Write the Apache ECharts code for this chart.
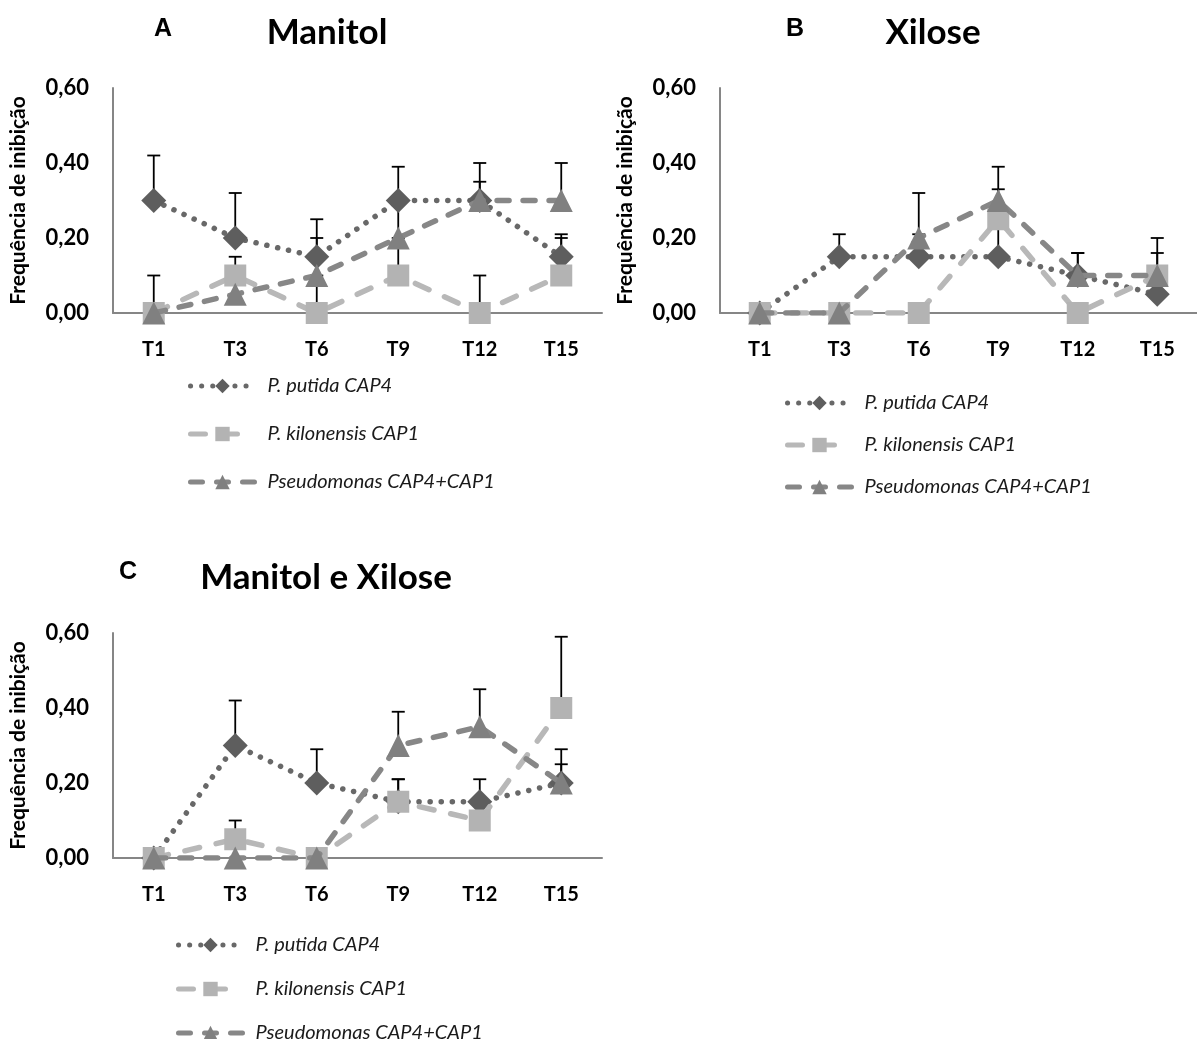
<!DOCTYPE html>
<html><head><meta charset="utf-8">
<script src="https://cdn.jsdelivr.net/npm/echarts@6/dist/echarts.min.js"></script>
<style>html,body{margin:0;padding:0;background:#fff}#c{width:1197px;height:1039px}</style>
</head><body><div id="c"></div>
<script>
// ---- data ----
const categories = ['T1', 'T3', 'T6', 'T9', 'T12', 'T15'];
const yTicks = [0, 0.2, 0.4, 0.6];
const seriesNames = ['P. putida CAP4', 'P. kilonensis CAP1', 'Pseudomonas CAP4+CAP1'];
const yAxisTitle = 'Frequência de inibição';
const panelLetters = ['A', 'B', 'C'];
const panelTitles = ['Manitol', 'Xilose', 'Manitol e Xilose'];

// Panel A - Manitol
const manitolPutida = [0.30, 0.20, 0.15, 0.30, 0.30, 0.15];
const manitolKilonensis = [0, 0.10, 0, 0.10, 0, 0.10];
const manitolMix = [0, 0.05, 0.10, 0.20, 0.30, 0.30];
const manitolPutidaErr = [0.12, 0.12, 0.10, 0.09, 0.10, 0.06];
const manitolKilonensisErr = [0.10, 0.05, 0.10, 0.10, 0.10, 0.10];
const manitolMixErr = [0, 0, 0.10, 0.10, 0.05, 0.10];

// Panel B - Xilose
const xilosePutida = [0, 0.15, 0.15, 0.15, 0.10, 0.05];
const xiloseKilonensis = [0, 0, 0, 0.25, 0, 0.10];
const xiloseMix = [0, 0, 0.20, 0.30, 0.10, 0.10];
const xilosePutidaErr = [0, 0.06, 0.06, 0.10, 0.06, 0.05];
const xiloseKilonensisErr = [0, 0, 0, 0.08, 0, 0.10];
const xiloseMixErr = [0, 0, 0.12, 0.09, 0.06, 0.06];

// Panel C - Manitol e Xilose
const mxPutida = [0, 0.30, 0.20, 0.15, 0.15, 0.20];
const mxKilonensis = [0, 0.05, 0, 0.15, 0.10, 0.40];
const mxMix = [0, 0, 0, 0.30, 0.35, 0.20];
const mxPutidaErr = [0, 0.12, 0.09, 0.06, 0.06, 0.09];
const mxKilonensisErr = [0, 0.05, 0, 0.06, 0, 0.19];
const mxMixErr = [0, 0, 0, 0.09, 0.10, 0.05];

// ---- layout / style ----
const panelValues = [
  [manitolPutida, manitolKilonensis, manitolMix],
  [xilosePutida, xiloseKilonensis, xiloseMix],
  [mxPutida, mxKilonensis, mxMix]
];
const panelErrors = [
  [manitolPutidaErr, manitolKilonensisErr, manitolMixErr],
  [xilosePutidaErr, xiloseKilonensisErr, xiloseMixErr],
  [mxPutidaErr, mxKilonensisErr, mxMixErr]
];
const grids = [
  {left: 113, top: 88, width: 489, height: 225},
  {left: 720, top: 88, width: 489, height: 225},
  {left: 113, top: 633, width: 489, height: 225}
];
const headPos = [
  {lx: 163, ly: 29, tx: 327, ty: 33},
  {lx: 795, ly: 29, tx: 933, ty: 33},
  {lx: 128, ly: 572, tx: 326, ty: 578}
];
const legendPos = [
  {left: 188, top: 376, gap: 28},
  {left: 785, top: 393, gap: 22},
  {left: 176, top: 935, gap: 24}
];
const styles = [
  {symbol: 'diamond', size: 25, color: '#5e5e5e', line: {color: '#686868', width: 5.5, type: [0.1, 11], cap: 'round'}},
  {symbol: 'rect', size: 22, color: '#b3b3b3', line: {color: '#b8b8b8', width: 5.5, type: [15, 17], cap: 'round'}},
  {symbol: 'triangle', size: 23, color: '#808080', line: {color: '#878787', width: 5.5, type: [12, 14], cap: 'round'}}
];
const FONT = 'Lato';

function errSeries(g, vals, errs) {
  return {
    type: 'custom', xAxisIndex: g, yAxisIndex: g, z: 1, silent: true,
    data: vals.map((v, i) => [i, v, errs[i]]).filter(d => d[2] > 0),
    encode: {x: 0, y: 1},
    renderItem: function (params, api) {
      const i = api.value(0), v = api.value(1), e = api.value(2);
      const p0 = api.coord([i, v]);
      const p1 = api.coord([i, v + e]);
      const st = {stroke: '#000', lineWidth: 1.8};
      return {type: 'group', children: [
        {type: 'line', shape: {x1: p0[0], y1: p0[1], x2: p1[0], y2: p1[1]}, style: st},
        {type: 'line', shape: {x1: p1[0] - 6.5, y1: p1[1], x2: p1[0] + 6.5, y2: p1[1]}, style: st}
      ]};
    }
  };
}

const option = {
  animation: false,
  backgroundColor: '#fff',
  grid: grids.map(g => Object.assign({containLabel: false}, g)),
  xAxis: grids.map((g, i) => ({
    type: 'category', gridIndex: i, data: categories, boundaryGap: true,
    axisLine: {show: true, lineStyle: {color: '#868686', width: 2}},
    axisTick: {show: false},
    axisLabel: {color: '#000', fontFamily: FONT, fontWeight: 'bold', fontSize: 20, margin: 27},
    splitLine: {show: false}
  })),
  yAxis: grids.map((g, i) => ({
    type: 'value', gridIndex: i, min: yTicks[0], max: yTicks[yTicks.length - 1], interval: 0.2,
    name: yAxisTitle, nameLocation: 'middle', nameRotate: 90, nameGap: 84,
    nameTextStyle: {color: '#000', fontFamily: FONT, fontWeight: 'bold', fontSize: 21},
    axisLine: {show: true, lineStyle: {color: '#868686', width: 2}},
    axisTick: {show: false},
    splitLine: {show: false},
    axisLabel: {color: '#000', fontFamily: FONT, fontWeight: 'bold', fontSize: 22, margin: 24,
      formatter: v => v.toFixed(2).replace('.', ',')}
  })),
  legend: legendPos.map(p => ({
    orient: 'vertical', left: p.left, top: p.top, itemGap: p.gap, padding: 0,
    height: 130,
    itemWidth: 64, itemHeight: 18, selectedMode: false,
    data: seriesNames,
    lineStyle: {width: 5},
    textStyle: {fontFamily: FONT, fontStyle: 'italic', fontSize: 20, lineHeight: 18, color: '#1a1a1a', padding: [0, 0, 0, 8]}
  })),
  graphic: headPos.flatMap((h, i) => [
    {type: 'text', x: h.lx, y: h.ly, style: {text: panelLetters[i], textAlign: 'center', textVerticalAlign: 'middle',
      font: 'bold 25px "Liberation Sans", Arial', fill: '#000'}},
    {type: 'text', x: h.tx, y: h.ty, style: {text: panelTitles[i], textAlign: 'center', textVerticalAlign: 'middle',
      font: 'bold 35px Lato', fill: '#000'}}
  ]),
  series: []
};

for (let g = 0; g < 3; g++) {
  for (let s = 0; s < 3; s++) {
    option.series.push(errSeries(g, panelValues[g][s], panelErrors[g][s]));
  }
  for (let s = 0; s < 3; s++) {
    const st = styles[s];
    option.series.push({
      type: 'line', name: seriesNames[s], xAxisIndex: g, yAxisIndex: g, z: 2 + s,
      data: panelValues[g][s],
      symbol: st.symbol, symbolSize: st.size, showAllSymbol: true,
      itemStyle: {color: st.color},
      lineStyle: Object.assign({}, st.line),
      emphasis: {disabled: true}
    });
  }
}

const chart = echarts.init(document.getElementById('c'), null, {renderer: 'canvas'});
chart.setOption(option);
</script>
</body></html>
